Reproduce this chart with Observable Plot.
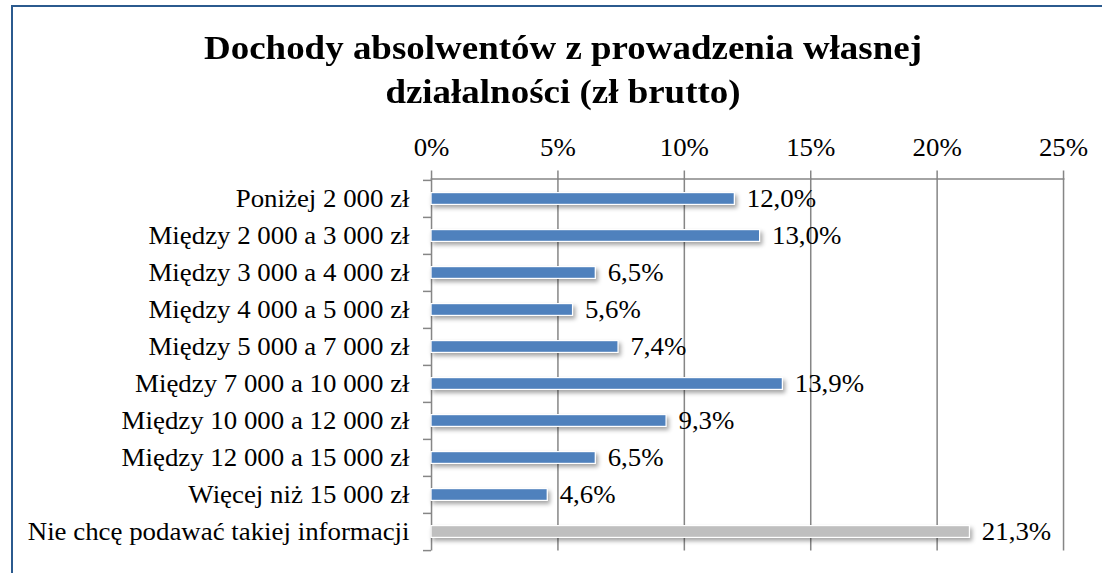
<!DOCTYPE html>
<html>
<head>
<meta charset="utf-8">
<script src="https://cdn.jsdelivr.net/npm/d3@7"></script>
<script src="https://cdn.jsdelivr.net/npm/@observablehq/plot@0.6"></script>
<style>
  html, body { margin: 0; padding: 0; background: #fff; overflow: hidden; }
  #wrap { position: relative; width: 1102px; height: 573px; overflow: hidden; font-family: "Liberation Serif", "Times New Roman", serif; }
  #border { position: absolute; left: 11px; top: 5px; width: 1200px; height: 700px; border: 2px solid #2b5a8e; box-sizing: border-box; }
  #title { position: absolute; left: 0; top: 26px; width: 1126px; text-align: center; font-weight: bold; font-size: 34px; line-height: 44px; color: #000; transform: scaleX(1.087); transform-origin: 563px 0; }
  #chart { position: absolute; left: 0; top: 0; }
  #chart g[aria-label="bar"] rect { filter: drop-shadow(2px 3px 2px rgba(0,0,0,0.35)); }
</style>
</head>
<body>
<div id="wrap">
  <div id="border"></div>
  <div id="chart"></div>
  <div id="title">Dochody absolwentów z prowadzenia własnej<br>działalności (zł brutto)</div>
</div>
<script>
const categories = [
  "Poniżej 2 000 zł",
  "Między 2 000 a 3 000 zł",
  "Między 3 000 a 4 000 zł",
  "Między 4 000 a 5 000 zł",
  "Między 5 000 a 7 000 zł",
  "Między 7 000 a 10 000 zł",
  "Między 10 000 a 12 000 zł",
  "Między 12 000 a 15 000 zł",
  "Więcej niż 15 000 zł",
  "Nie chcę podawać takiej informacji"
];
const values = [12.0, 13.0, 6.5, 5.6, 7.4, 13.9, 9.3, 6.5, 4.6, 21.3];
const groups = ["a", "a", "a", "a", "a", "a", "a", "a", "a", "b"];
const xTicks = [0, 5, 10, 15, 20, 25];

const data = categories.map((c, i) => ({category: c, value: values[i], group: groups[i]}));

// the reference's text is slightly stretched horizontally; draw narrower and stretch
const S = 1.075;
const W = 1102, H = 573;
const Wi = W / S;
const mTop = 178.5, mBottom = 22.5, mLeft = 431 / S, mRight = 39 / S;
const step = (H - mTop - mBottom) / categories.length;
const fmt = v => v.toFixed(1).replace(".", ",") + "%";

const chart = Plot.plot({
  width: Wi,
  height: H,
  marginTop: mTop,
  marginBottom: mBottom,
  marginLeft: mLeft,
  marginRight: mRight,
  style: {fontFamily: "'Liberation Serif', 'Times New Roman', serif", color: "#000", background: "transparent"},
  x: {domain: [0, 25], axis: null},
  y: {domain: categories, padding: 0, axis: null},
  color: {domain: ["a", "b"], range: ["#4f81bd", "#bfbfbf"]},
  marks: [
    Plot.gridX(xTicks, {stroke: "#868686", strokeOpacity: 1, strokeWidth: 1.4}),
    Plot.frame({anchor: "top", stroke: "#868686", strokeWidth: 1.5}),
    Plot.axisX(xTicks, {anchor: "top", label: null, tickSize: 9, tickPadding: 14, stroke: "#868686", strokeWidth: 1.4, fontSize: 25, fill: "#000", tickFormat: d => d + "%"}),
    Plot.axisY({anchor: "left", label: null, tickSize: 8 / S, text: null, dy: -step / 2, stroke: "#868686", strokeWidth: 1.5}),
    Plot.axisY([categories[categories.length - 1]], {anchor: "left", label: null, tickSize: 8 / S, text: null, dy: step / 2, stroke: "#868686", strokeWidth: 1.5}),
    Plot.axisY({anchor: "left", label: null, tickSize: 0, tickPadding: 22 / S, fontSize: 25, fill: "#000"}),
    Plot.barX(data, {y: "category", x: "value", fill: "group", stroke: "#fff", strokeWidth: 1.2, insetTop: 12.6, insetBottom: 12.6}),
    Plot.text(data, {y: "category", x: "value", text: d => fmt(d.value), textAnchor: "start", dx: 11, fontSize: 25, fill: "#000"})
  ]
});
chart.setAttribute("width", W);
chart.setAttribute("height", H);
chart.setAttribute("preserveAspectRatio", "none");
chart.style.width = W + "px";
chart.style.height = H + "px";
chart.style.maxWidth = "none";
document.getElementById("chart").appendChild(chart);
</script>
</body>
</html>
